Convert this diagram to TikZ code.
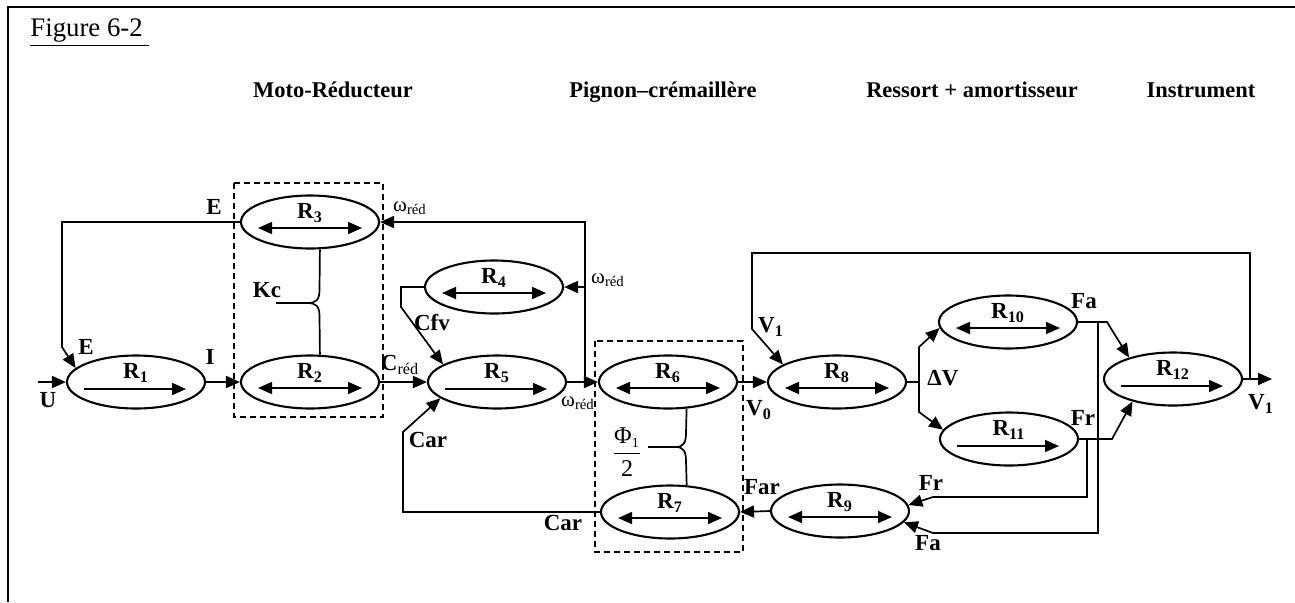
\documentclass[tikz,border=0pt]{standalone}
\usepackage{fontspec}
\setmainfont{Liberation Serif}
\usetikzlibrary{arrows.meta,shapes.geometric}
\begin{document}
\begin{tikzpicture}[x=0.5pt,y=-0.5pt,
  ell/.style={ellipse,draw,line width=1.05pt,minimum width=69pt,minimum height=26.5pt,inner sep=0pt},
  con/.style={line width=0.85pt},
  arr/.style={con,-{Triangle[length=7pt,width=6pt]}},
  inarr/.style={line width=0.85pt,-{Triangle[length=7pt,width=6pt]}},
  dbl/.style={line width=0.85pt,{Triangle[length=7pt,width=6pt]}-{Triangle[length=7pt,width=6pt]}},
  lbl/.style={font=\fontsize{11.5}{13}\selectfont\bfseries,inner sep=0pt},
  om/.style={font=\fontsize{10.5}{12}\selectfont,inner sep=0pt},
  hdr/.style={font=\fontsize{11.25}{13}\selectfont\bfseries,inner sep=0pt,anchor=base},
  dbox/.style={draw,line width=0.9pt,dash pattern=on 3pt off 2pt}
]
\useasboundingbox (0,0) rectangle (1295,602);
% frame and title
\draw[line width=1pt] (8,602) -- (8,7) -- (1295,7);
\node[anchor=west,font=\fontsize{13.4}{15}\selectfont,inner sep=0pt] (title) at (30,33) {\underline{Figure 6-2~}};
% headers
\node[hdr] (h1) at (333,97) {Moto-Réducteur};
\node[hdr] (h2) at (663,97) {Pignon–crémaillère};
\node[hdr] (h3) at (972,97) {Ressort + amortisseur};
\node[hdr] (h4) at (1201,97) {Instrument};
% dashed boxes
\draw[dbox] (234,183) rectangle (383,417);
\draw[dbox] (595,341) rectangle (743,552);
% ellipses with single arrow
\foreach \n/\x/\y in {1/136/382,5/497/382,11/1009/439,12/1173/379} {
  \node[ell] (r\n) at (\x,\y) {};
  \node[lbl] (l\n) at (\x,\y-9) {R\textsubscript{\n}};
  \draw[inarr] (\x-52,\y+7) -- (\x+50,\y+7);
}
% ellipses with double arrow
\foreach \n/\x/\y in {2/310/382,3/310/222,4/494/287,6/668/382,7/670/512,8/837/382,9/840/511,10/1008/322} {
  \node[ell] (r\n) at (\x,\y) {};
  \node[lbl] (l\n) at (\x,\y-9) {R\textsubscript{\n}};
  \draw[dbl] (\x-52,\y+6) -- (\x+52,\y+6);
}
% main chain
\coordinate (uin) at (38,382);
\draw[arr] (uin) -- (r1.west);
\draw[arr] (r1.east) -- (r2.west);
\draw[arr] (r2.east) -- (r5.west);
\draw[arr] (r5.east) -- (r6.west);
\draw[arr] (r6.east) -- (r8.west);
\draw[arr] (r9.west) -- (r7.east);
% E feedback
\draw[arr] (r3.west) -- (62,222) -- (62,347) -- (r1.167);
% omega feedbacks
\coordinate (jw) at (585,382);
\draw[arr] (jw) -- (585,222) -- (r3.east);
\coordinate (jw4) at (585,287);
\draw[arr] (jw4) -- (r4.east);
% Cfv
\draw[arr] (r4.west) -- (401,287) -- (401,307) -- (r5.162);
% Car
\draw[arr] (r7.west) -- (403,512) -- (403,432) -- (r5.196);
% V1 output and feedback
\coordinate (v1out) at (1272,379);
\draw[arr] (r12.east) -- (v1out);
\coordinate (jv) at (1250,379);
\draw[arr] (jv) -- (1250,253) -- (752,253) -- (752,329) -- (r8.162);
% Delta V
\coordinate (dv) at (919,382);
\draw[con] (r8.east) -- (dv);
\draw[arr] (dv) -- (919,347) -- (r10.185);
\draw[arr] (dv) -- (919,412) -- (r11.172);
% Fa, Fr
\draw[arr] (r10.east) -- (1107,322) -- (r12.154);
\draw[arr] (r11.east) -- (1112,439) -- (r12.209);
\coordinate (jfa) at (1098,322);
\draw[arr] (jfa) -- (1098,533) -- (933,533) -- (r9.350);
\coordinate (jfr) at (1087,439);
\draw[arr] (jfr) -- (1087,497) -- (933,497) -- (r9.5);
% braces
\draw[con] (r3.290) -- (319.5,290) .. controls (319.5,300) and (316,303) .. (307,303) -- (276,303);
\draw[con] (307,303) .. controls (316,303) and (319.5,306) .. (319.5,316) -- (r2.70);
\draw[con] (r6.305) -- (686,433) .. controls (686,443) and (683,447) .. (676,447) -- (648,447);
\draw[con] (676,447) .. controls (683,447) and (686,451) .. (686,461) -- (r7.58);
% labels
\node[lbl] (lE1) at (214,207) {E};
\node[lbl] (lE2) at (86,347) {E};
\node[lbl] (lU) at (48,400) {U};
\node[lbl] (lI) at (210,357) {I};
\node[lbl] (lKc) at (267,290) {Kc};
\node[lbl] (lCred) at (400,365) {C\textsubscript{\normalfont réd}};
\node[om] (lw1) at (410,208) {ω\textsubscript{réd}};
\node[om] (lw2) at (608,280) {ω\textsubscript{réd}};
\node[om] (lw3) at (578,403) {ω\textsubscript{réd}};
\node[lbl] (lCfv) at (432,323) {Cfv};
\node[lbl] (lCar1) at (428,440) {Car};
\node[lbl] (lCar2) at (563,523) {Car};
\node[lbl] (lV0) at (759,410) {V\textsubscript{0}};
\node[lbl] (lV1a) at (771,327) {V\textsubscript{1}};
\node[lbl] (lFar) at (762,487) {Far};
\node[lbl] (lDV) at (943,378) {ΔV};
\node[lbl] (lFa1) at (1084,301) {Fa};
\node[lbl] (lFr1) at (1083,418) {Fr};
\node[lbl] (lFr2) at (931,483) {Fr};
\node[lbl] (lFa2) at (928,543) {Fa};
\node[lbl] (lV1b) at (1261,404) {V\textsubscript{1}};
\node[inner sep=0pt,font=\fontsize{12}{14}\selectfont] (lphi) at (627,452) {$\displaystyle\frac{\mbox{Φ}_{\mbox{\scriptsize 1}}}{\mbox{2}}$};
\end{tikzpicture}
\end{document}
